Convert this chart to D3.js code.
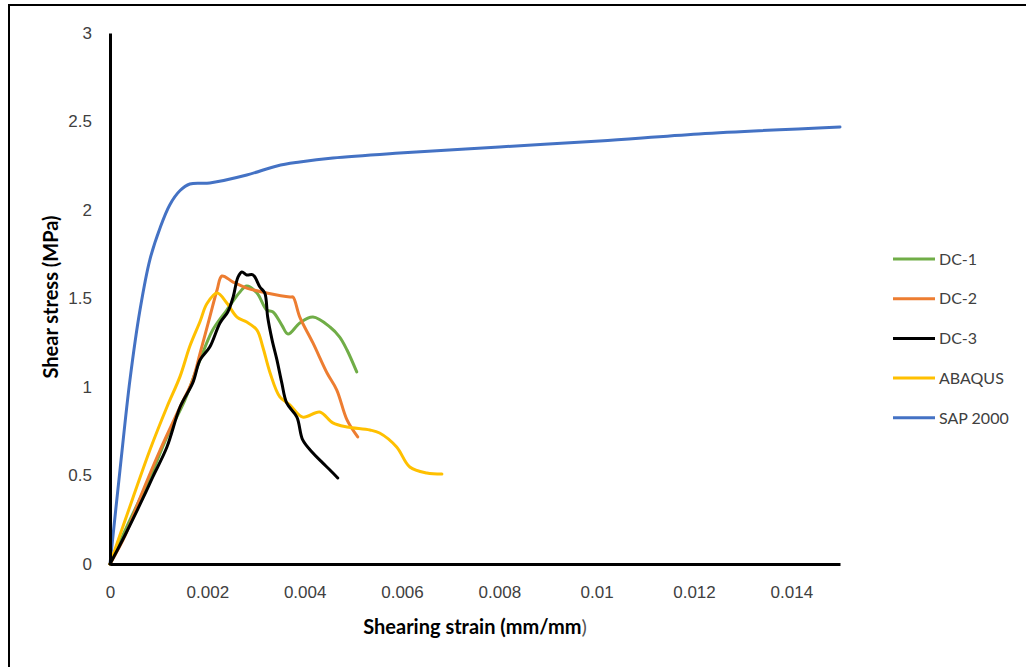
<!DOCTYPE html>
<html>
<head>
<meta charset="utf-8">
<script src="https://cdn.jsdelivr.net/npm/d3@7/dist/d3.min.js"></script>
<style>
body { margin: 0; background: #fff; }
svg { display: block; font-family: Lato, "Open Sans", sans-serif; }
.tick text { fill: #404040; font-size: 17px; }
</style>
</head>
<body>
<div id="chart"></div>
<script>
// strain (mm/mm), stress (MPa)
var dc1Strain = [0, 0.00041, 0.00082, 0.00117, 0.00154, 0.00185, 0.00211, 0.0024, 0.00267, 0.00281, 0.00302, 0.00322, 0.00335, 0.00353, 0.00366, 0.0039, 0.00417, 0.00452, 0.00472, 0.00487, 0.00507];
var dc1Stress = [0, 0.249, 0.486, 0.718, 0.927, 1.153, 1.322, 1.435, 1.537, 1.571, 1.531, 1.435, 1.424, 1.35, 1.299, 1.362, 1.395, 1.339, 1.282, 1.209, 1.085];

var dc2Strain = [0, 0.00031, 0.000616, 0.00103, 0.00144, 0.0017, 0.00185, 0.00205, 0.0022, 0.0023, 0.00253, 0.00281, 0.00322, 0.0037, 0.00376, 0.0039, 0.00417, 0.00446, 0.00466, 0.00487, 0.00509];
var dc2Stress = [0, 0.16, 0.373, 0.644, 0.887, 1.04, 1.19, 1.395, 1.548, 1.627, 1.593, 1.559, 1.531, 1.508, 1.508, 1.395, 1.249, 1.079, 0.983, 0.814, 0.718];

var dc3Strain = [0, 0.00031, 0.00068, 0.00088, 0.00117, 0.00144, 0.0017, 0.00185, 0.00205, 0.00226, 0.00242, 0.00253, 0.00263, 0.00271, 0.00281, 0.00294, 0.00308, 0.00318, 0.00324, 0.00333, 0.00343, 0.00353, 0.00363, 0.00384, 0.00396, 0.00417, 0.00437, 0.00452, 0.00468];
var dc3Stress = [0, 0.164, 0.373, 0.492, 0.661, 0.887, 1.023, 1.153, 1.226, 1.362, 1.424, 1.508, 1.621, 1.65, 1.633, 1.633, 1.565, 1.531, 1.395, 1.266, 1.153, 1.023, 0.91, 0.83, 0.701, 0.627, 0.571, 0.531, 0.486];

var abaqusStrain = [0, 0.000205, 0.00047, 0.00082, 0.00117, 0.00144, 0.00164, 0.00185, 0.00199, 0.0022, 0.0024, 0.00261, 0.00281, 0.00302, 0.00314, 0.00329, 0.00349, 0.0037, 0.00396, 0.00431, 0.00458, 0.00487, 0.00534, 0.00554, 0.00589, 0.00616, 0.00651, 0.00682];
var abaqusStress = [0, 0.164, 0.373, 0.644, 0.887, 1.06, 1.23, 1.37, 1.47, 1.531, 1.475, 1.395, 1.367, 1.322, 1.226, 1.079, 0.944, 0.898, 0.83, 0.859, 0.797, 0.774, 0.757, 0.74, 0.661, 0.548, 0.514, 0.508];

var sapStrain = [0, 0.000205, 0.00041, 0.000616, 0.00082, 0.00103, 0.00123, 0.00144, 0.00164, 0.00205, 0.00281, 0.00343, 0.0039, 0.00458, 0.00595, 0.008, 0.01006, 0.0121, 0.015];
var sapStress = [0, 0.53, 1.04, 1.435, 1.72, 1.9, 2.03, 2.11, 2.147, 2.153, 2.198, 2.249, 2.271, 2.294, 2.322, 2.356, 2.39, 2.43, 2.469];

var seriesNames = ["DC-1", "DC-2", "DC-3", "ABAQUS", "SAP 2000"];
var seriesColors = ["#70AD47", "#ED7D31", "#000000", "#FFC000", "#4472C4"];
var xTicks = [0, 0.002, 0.004, 0.006, 0.008, 0.01, 0.012, 0.014];
var yTicks = [0, 0.5, 1, 1.5, 2, 2.5, 3];

var width = 1026, height = 667;
var margin = {top: 33, right: 186, bottom: 103, left: 110};

var x = d3.scaleLinear().domain([0, 0.015]).range([margin.left, width - margin.right]);
var y = d3.scaleLinear().domain([0, 3]).range([height - margin.bottom, margin.top]);

var svg = d3.select("#chart").append("svg")
  .attr("width", width)
  .attr("height", height);

// outer frame
svg.append("rect")
  .attr("x", 9).attr("y", 5)
  .attr("width", width + 20).attr("height", height + 20)
  .attr("fill", "none")
  .attr("stroke", "#000")
  .attr("stroke-width", 2);

var series = [
  {strain: dc1Strain, stress: dc1Stress},
  {strain: dc2Strain, stress: dc2Stress},
  {strain: dc3Strain, stress: dc3Stress},
  {strain: abaqusStrain, stress: abaqusStress},
  {strain: sapStrain, stress: sapStress}
];

var line = d3.line()
  .x(function (d) { return x(d[0]); })
  .y(function (d) { return y(d[1]); })
  .curve(d3.curveCatmullRom.alpha(0.5));

// draw so the black and blue lines sit where they do in the figure
var drawOrder = [4, 0, 1, 3, 2];
drawOrder.forEach(function (i) {
  var pts = series[i].strain.map(function (s, k) { return [s, series[i].stress[k]]; });
  svg.append("path")
    .datum(pts)
    .attr("fill", "none")
    .attr("stroke", seriesColors[i])
    .attr("stroke-width", 3)
    .attr("stroke-linejoin", "round")
    .attr("stroke-linecap", "round")
    .attr("d", line);
});

var xAxis = d3.axisBottom(x).tickValues(xTicks).tickSize(0).tickPadding(22)
  .tickFormat(function (d) { return d === 0 ? "0" : String(+d.toFixed(3)); });
var yAxis = d3.axisLeft(y).tickValues(yTicks).tickSize(0).tickPadding(18)
  .tickFormat(function (d) { return String(d); });

var gx = svg.append("g")
  .attr("transform", "translate(0," + y(0) + ")")
  .call(xAxis);
gx.select(".domain").attr("stroke", "#000").attr("stroke-width", 3);

var gy = svg.append("g")
  .attr("transform", "translate(" + x(0) + ",0)")
  .call(yAxis);
gy.select(".domain").attr("stroke", "#000").attr("stroke-width", 3);
gy.selectAll(".tick text").attr("dy", "0.3em");

// axis titles
var xt = svg.append("text")
  .attr("x", 475)
  .attr("y", 634)
  .attr("text-anchor", "middle")
  .style("font-size", "20px")
  .style("font-weight", "bold")
  .style("fill", "#000");
xt.append("tspan").text("Shearing strain (mm/mm");
xt.append("tspan").style("font-weight", "normal").style("fill", "#555").text(")");

svg.append("text")
  .attr("transform", "translate(58,297) rotate(-90)")
  .attr("text-anchor", "middle")
  .style("font-size", "20px")
  .style("font-weight", "bold")
  .style("fill", "#000")
  .text("Shear stress (MPa)");

// legend
var legend = svg.append("g").attr("transform", "translate(893,259)");
seriesNames.forEach(function (name, i) {
  var row = legend.append("g").attr("transform", "translate(0," + (i * 39.7) + ")");
  row.append("line")
    .attr("x1", 0).attr("x2", 42)
    .attr("y1", 0).attr("y2", 0)
    .attr("stroke", seriesColors[i])
    .attr("stroke-width", 3);
  row.append("text")
    .attr("x", 46)
    .attr("y", 0)
    .attr("dy", "0.36em")
    .style("font-size", "16px")
    .style("fill", "#404040")
    .text(name);
});
</script>
</body>
</html>
